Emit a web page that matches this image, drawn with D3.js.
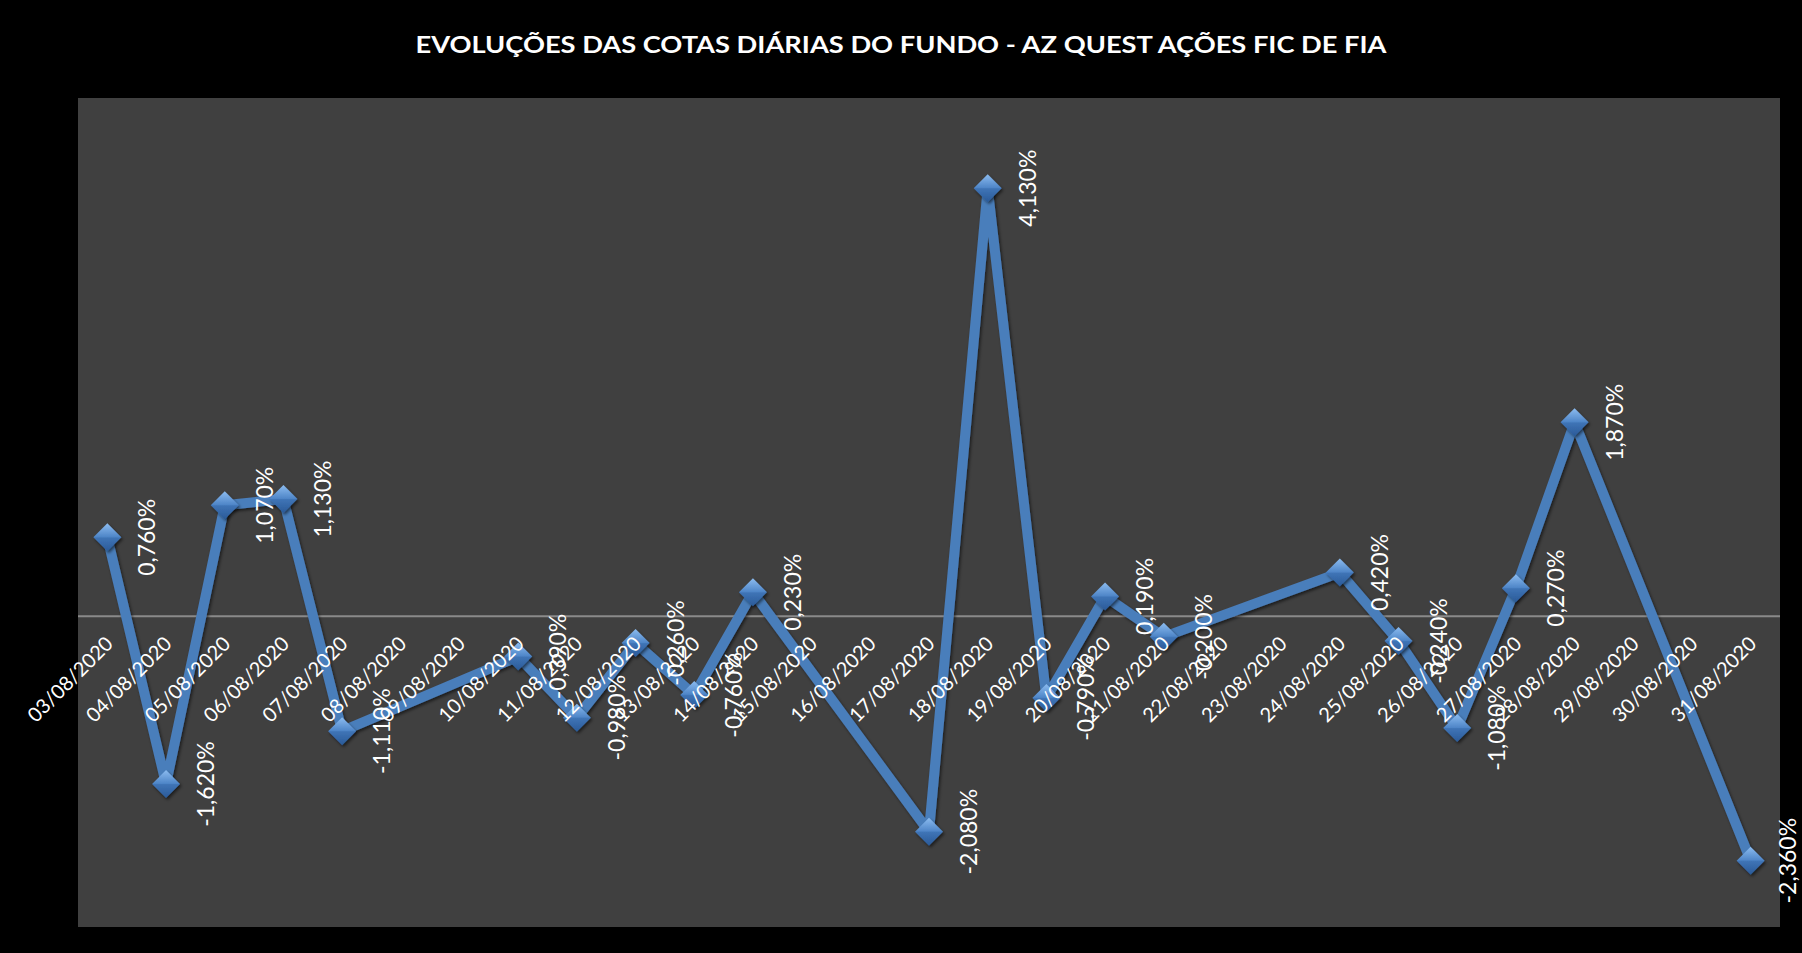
<!DOCTYPE html>
<html>
<head>
<meta charset="utf-8">
<script src="https://cdn.jsdelivr.net/npm/d3@7"></script>
<style>
  html, body { margin: 0; padding: 0; background: #000; }
  svg { display: block; }
  text { font-family: Lato, "Open Sans", sans-serif; fill: #fff; }
</style>
</head>
<body>
<div id="chart"></div>
<script>
// eixo de categorias: todos os dias do mês (inclui fins de semana)
const eixoDatas = [
  "03/08/2020", "04/08/2020", "05/08/2020", "06/08/2020", "07/08/2020", "08/08/2020",
  "09/08/2020", "10/08/2020", "11/08/2020", "12/08/2020", "13/08/2020", "14/08/2020",
  "15/08/2020", "16/08/2020", "17/08/2020", "18/08/2020", "19/08/2020", "20/08/2020",
  "21/08/2020", "22/08/2020", "23/08/2020", "24/08/2020", "25/08/2020", "26/08/2020",
  "27/08/2020", "28/08/2020", "29/08/2020", "30/08/2020", "31/08/2020"
];

// dias com cota divulgada e a variação diária (%)
const diasPregao = [
  "03/08/2020", "04/08/2020", "05/08/2020", "06/08/2020", "07/08/2020",
  "10/08/2020", "11/08/2020", "12/08/2020", "13/08/2020", "14/08/2020",
  "17/08/2020", "18/08/2020", "19/08/2020", "20/08/2020", "21/08/2020",
  "24/08/2020", "25/08/2020", "26/08/2020", "27/08/2020", "28/08/2020",
  "31/08/2020"
];
const variacao = [
  0.76, -1.62, 1.07, 1.13, -1.11,
  -0.39, -0.98, -0.26, -0.76, 0.23,
  -2.08, 4.13, -0.79, 0.19, -0.20,
  0.42, -0.24, -1.08, 0.27, 1.87,
  -2.36
];

const titulo = "EVOLUÇÕES DAS COTAS DIÁRIAS DO FUNDO - AZ QUEST AÇÕES FIC DE FIA";
const yDominio = [-3, 5];

const W = 1802, H = 953;
const plot = { l: 78, r: 1780, t: 98, b: 927 };

const br = d3.formatLocale({ decimal: ",", thousands: ".", grouping: [3], currency: ["R$", ""], minus: "-" });
const fmt = br.format(".3f");

const svg = d3.select("#chart").append("svg").attr("width", W).attr("height", H);

// fundo
svg.append("rect").attr("width", W).attr("height", H).attr("fill", "#000");

const defs = svg.append("defs");
const grad = defs.append("linearGradient").attr("id", "mk").attr("x1", 0).attr("y1", 0).attr("x2", 0).attr("y2", 1);
grad.append("stop").attr("offset", "0%").attr("stop-color", "#8cbcf0");
grad.append("stop").attr("offset", "48%").attr("stop-color", "#4f86c8");
grad.append("stop").attr("offset", "52%").attr("stop-color", "#3f74b6");
grad.append("stop").attr("offset", "100%").attr("stop-color", "#2a5a98");
const sh = defs.append("filter").attr("id", "sh").attr("x", "-30%").attr("y", "-30%").attr("width", "160%").attr("height", "160%");
sh.append("feDropShadow").attr("dx", 1.5).attr("dy", 2).attr("stdDeviation", 1.5)
  .attr("flood-color", "#000").attr("flood-opacity", 0.55);

// área de plotagem
svg.append("rect")
  .attr("x", plot.l).attr("y", plot.t)
  .attr("width", plot.r - plot.l).attr("height", plot.b - plot.t)
  .attr("fill", "#404040");

// título
svg.append("text")
  .attr("x", W / 2).attr("y", 53)
  .attr("text-anchor", "middle")
  .attr("textLength", 971).attr("lengthAdjust", "spacingAndGlyphs")
  .style("font-size", "23px").style("font-weight", 700)
  .text(titulo);

const x = d3.scaleBand().domain(eixoDatas).range([plot.l, plot.r]).padding(0);
const cx = d => x(d) + x.bandwidth() / 2;
const y = d3.scaleLinear().domain(yDominio).range([plot.b, plot.t]);

// linha do zero (fica por baixo da série)
svg.append("line")
  .attr("x1", plot.l).attr("x2", plot.r)
  .attr("y1", y(0)).attr("y2", y(0))
  .attr("stroke", "#8a8a8a").attr("stroke-width", 2);

const pontos = diasPregao.map((d, i) => ({ d, v: variacao[i] }));

// linha
const linha = d3.line().x(p => cx(p.d)).y(p => y(p.v));
svg.append("path")
  .datum(pontos)
  .attr("d", linha)
  .attr("fill", "none")
  .attr("stroke", "#4a7ebb")
  .attr("stroke-width", 10)
  .attr("stroke-linejoin", "round")
  .attr("filter", "url(#sh)");

// marcadores (losango)
const r = 14;
svg.append("g").selectAll("path").data(pontos).join("path")
  .attr("transform", p => `translate(${cx(p.d)},${y(p.v)})`)
  .attr("d", `M0,${-r}L${r},0L0,${r}L${-r},0Z`)
  .attr("fill", "url(#mk)")
  .attr("filter", "url(#sh)");

// rótulos do eixo x por cima da série
const eixo = svg.append("g").attr("transform", `translate(0,${y(0)})`)
  .call(d3.axisBottom(x).tickSize(0).tickSizeOuter(0));
eixo.select(".domain").remove();
eixo.selectAll(".tick text")
  .attr("x", 0).attr("y", 0).attr("dy", "0.35em")
  .attr("transform", "translate(2,24) rotate(-45)")
  .attr("text-anchor", "end")
  .attr("fill", "#fff")
  .style("font-family", "Lato, 'Open Sans', sans-serif")
  .style("font-size", "20px");

// rótulos de dados (o último fica colado na borda direita)
const desloc = p => Math.min(39, W - 15 - cx(p.d));
svg.append("g").selectAll("text").data(pontos).join("text")
  .attr("transform", p => `translate(${cx(p.d) + desloc(p)},${y(p.v)}) rotate(-90)`)
  .attr("text-anchor", "middle")
  .attr("dominant-baseline", "central")
  .style("font-size", "23px")
  .text(p => fmt(p.v) + "%");
</script>
</body>
</html>
